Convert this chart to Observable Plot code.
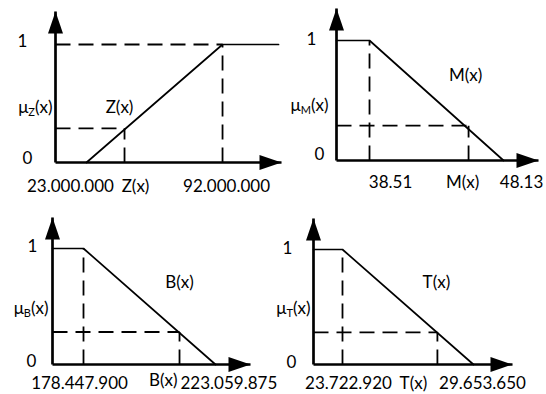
<!DOCTYPE html>
<html><head><meta charset="utf-8">
<script src="https://cdn.jsdelivr.net/npm/d3@7"></script>
<script src="https://cdn.jsdelivr.net/npm/@observablehq/plot@0.6"></script>
<style>
body{margin:0;background:#fff;}
#chart{position:relative;width:546px;height:394px;overflow:hidden;background:#fff;}
#chart svg{position:absolute;left:0;top:0;overflow:visible;}
</style></head><body><div id="chart"></div>
<script>
// ---- data ----
const curveNames   = ["Z", "M", "B", "T"];
const curveLabels  = ["Z(x)", "M(x)", "B(x)", "T(x)"];
const muLabels     = ["μZ(x)", "μM(x)", "μB(x)", "μT(x)"];
const lowLabels    = ["23.000.000", "38.51", "178.447.900", "23.722.920"];
const highLabels   = ["92.000.000", "48.13", "223.059.875", "29.653.650"];
const lowValues    = [23000000, 38.51, 178447900, 23722920];
const highValues   = [92000000, 48.13, 223059875, 29653650];
const axisStart    = [7300000, 36.14, 167970000, 22410000];
const axisEnd      = [121900000, 50.64, 234890000, 31420000];
const lineX        = [[23000000, 92000000, 120400000], [36.14, 38.51, 48.13], [167970000, 178447900, 223059875], [22410000, 23722920, 29653650]];
const lineMu       = [[0, 1, 1], [1, 1, 0], [1, 1, 0], [1, 1, 0]];
const coreEdge     = [92000000, 38.51, 178447900, 23722920];
const topGuide     = [true, false, false, false];
const sampleX      = [42300000, 45.62, 210900000, 28020000];
const sampleMu     = [0.29, 0.29, 0.28, 0.28];
const yTickLabels  = ["0", "1"];
const yTickValues  = [0, 1];

// ---- layout (pixels) ----
const W = 546, H = 394;
const layout = [
  {ox: 55,  oy: 162, y1: 44,  xTip: 281, yTip: 11,  oneDx: -33, oneDy: -3, zeroDx: -28, zeroDy: -4, muDx: -3, muY: 0.466, curveDx: -5,  curveY: 0.466, lowDx: -16, lowAnchor: "middle", sampDx: 11,  sampDy: 0,  sampAnchor: "middle", highDx: 4,  highAnchor: "middle", xlabDy: 24},
  {ox: 336, oy: 160, y1: 40,  xTip: 538, yTip: 8,   oneDx: -25, oneDy: -1, zeroDx: -17, zeroDy: -6, muDx: -8, muY: 0.458, curveDx: -3,  curveY: 0.708, lowDx: 21,  lowAnchor: "middle", sampDx: -6,  sampDy: 0,  sampAnchor: "middle", highDx: 18, highAnchor: "middle", xlabDy: 22},
  {ox: 52,  oy: 364, y1: 248, xTip: 250, yTip: 217, oneDx: -20, oneDy: -2, zeroDx: -21, zeroDy: -3, muDx: -4, muY: 0.483, curveDx: 0,   curveY: 0.707, lowDx: -4,  lowAnchor: "middle", sampDx: -2,  sampDy: -3, sampAnchor: "end",    highDx: -35, highAnchor: "start", xlabDy: 19},
  {ox: 313, oy: 364, y1: 249, xTip: 512, yTip: 218, oneDx: -26, oneDy: -1, zeroDx: -22, zeroDy: -2, muDx: -3, muY: 0.487, curveDx: -1,  curveY: 0.713, lowDx: 6,   lowAnchor: "middle", sampDx: -24, sampDy: 0,  sampAnchor: "middle", highDx: 9,  highAnchor: "middle", xlabDy: 19}
];

const headUp = {draw(ctx) { ctx.moveTo(0, 0); ctx.lineTo(-7.5, 22); ctx.lineTo(7.5, 22); ctx.closePath(); }};
const headRight = {draw(ctx) { ctx.moveTo(0, 0); ctx.lineTo(-22, -7.5); ctx.lineTo(-22, 7.5); ctx.closePath(); }};

const root = document.getElementById("chart");
const dash = "15,8";

curveNames.forEach((name, i) => {
  const L = layout[i];
  const yTop = (L.oy - L.yTip) / (L.oy - L.y1);
  const x0 = axisStart[i], x1 = axisEnd[i];
  const line = lineX[i].map((x, j) => ({x, y: lineMu[i][j]}));
  const guides = [
    {x1: coreEdge[i], x2: coreEdge[i], y1: 0, y2: 1},
    {x1: sampleX[i], x2: sampleX[i], y1: 0, y2: sampleMu[i]},
    {x1: x0, x2: sampleX[i], y1: sampleMu[i], y2: sampleMu[i]}
  ];
  if (topGuide[i]) guides.push({x1: x0, x2: coreEdge[i], y1: 1, y2: 1});
  const ticks = yTickValues.map((v, j) => ({y: v, t: yTickLabels[j]}));
  const txt = {fill: "black", fontSize: 17};
  const svg = Plot.plot({
    width: W, height: H,
    marginLeft: L.ox, marginRight: W - L.xTip, marginTop: L.yTip, marginBottom: H - L.oy,
    x: {domain: [x0, x1], axis: null},
    y: {domain: [0, yTop], axis: null},
    style: {fontFamily: "Lato, 'Open Sans', sans-serif", background: "transparent", overflow: "visible", color: "black"},
    marks: [
      Plot.link(guides, {x1: "x1", x2: "x2", y1: "y1", y2: "y2", stroke: "black", strokeWidth: 1.8, strokeDasharray: dash}),
      Plot.line(line, {x: "x", y: "y", stroke: "black", strokeWidth: 1.7}),
      Plot.link([{a: x0, b: x1}], {x1: "a", x2: "b", y1: () => 0, y2: () => 0, stroke: "black", strokeWidth: 2.7}),
      Plot.link([{a: 0, b: yTop}], {x1: () => x0, x2: () => x0, y1: "a", y2: "b", stroke: "black", strokeWidth: 2.7}),
      Plot.dot([{x: x0, y: yTop}], {x: "x", y: "y", symbol: headUp, fill: "black", stroke: "none", r: 5}),
      Plot.dot([{x: x1, y: 0}], {x: "x", y: "y", symbol: headRight, fill: "black", stroke: "none", r: 5}),
      Plot.text(ticks.filter(d => d.y === 1), {x: () => x0, y: "y", text: "t", ...txt, dx: L.oneDx, dy: L.oneDy}),
      Plot.text(ticks.filter(d => d.y === 0), {x: () => x0, y: "y", text: "t", ...txt, dx: L.zeroDx, dy: L.zeroDy}),
      Plot.text([muLabels[i]], {x: () => x0, y: () => L.muY, text: d => d, ...txt, textAnchor: "end", dx: L.muDx, className: "mu"}),
      Plot.text([curveLabels[i]], {x: () => sampleX[i], y: () => L.curveY, text: d => d, ...txt, dx: L.curveDx}),
      Plot.text([{x: lowValues[i], t: lowLabels[i]}], {x: "x", y: () => 0, text: "t", ...txt, textAnchor: L.lowAnchor, dx: L.lowDx, dy: L.xlabDy}),
      Plot.text([{x: sampleX[i], t: curveLabels[i]}], {x: "x", y: () => 0, text: "t", ...txt, textAnchor: L.sampAnchor, dx: L.sampDx, dy: L.xlabDy + L.sampDy}),
      Plot.text([{x: highValues[i], t: highLabels[i]}], {x: "x", y: () => 0, text: "t", ...txt, textAnchor: L.highAnchor, dx: L.highDx, dy: L.xlabDy})
    ]
  });
  root.appendChild(svg);
});

// subscript for the μ labels
d3.selectAll("#chart .mu text").each(function() {
  const s = this.textContent;
  const m = s.match(/^μ(.)(\(x\))$/);
  if (!m) return;
  const t = d3.select(this);
  t.text(null);
  t.append("tspan").text("μ");
  t.append("tspan").attr("font-size", 11).attr("dy", 3).text(m[1]);
  t.append("tspan").attr("dy", -3).text(m[2]);
});
</script>
</body></html>
